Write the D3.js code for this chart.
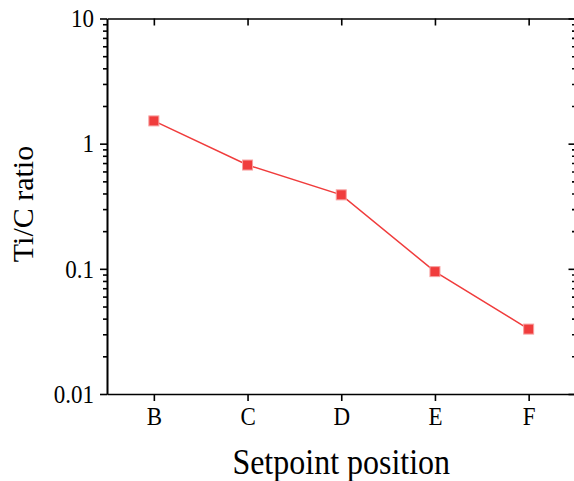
<!DOCTYPE html>
<html>
<head>
<meta charset="utf-8">
<script src="https://cdn.jsdelivr.net/npm/d3@7"></script>
<style>
  body { margin: 0; background: #fff; }
  svg { display: block; font-family: "Liberation Serif", "Times New Roman", serif; }
  .tall { transform-box: fill-box; transform-origin: center; transform: scaleY(1.1); }
</style>
</head>
<body>
<svg id="chart" width="574" height="481"></svg>
<script>
// Data
const positions = ["B", "C", "D", "E", "F"];
const ratios = [1.52, 0.675, 0.39, 0.095, 0.033];
const yMajorTicks = [0.01, 0.1, 1, 10];
const yTickLabels = ["0.01", "0.1", "1", "10"];

const svg = d3.select("#chart");
const plotLeft = 107, plotRight = 575.5, plotTop = 18.5, plotBottom = 394;
const red = "#f03c3c";

let x = d3.scalePoint().domain(positions).range([plotLeft, plotRight]).padding(0.5);
let y = d3.scaleLog().domain([0.01, 10]).range([plotBottom, plotTop]);

// minor ticks: 2..9 in each decade
let minorTicks = y.ticks().filter(v => yMajorTicks.indexOf(v) === -1);

function styleAxis(g) {
    g.selectAll("path, line").attr("stroke", "#000").attr("stroke-width", 1.6);
    g.selectAll("text").attr("fill", "#000").attr("class", "tall").style("font-size", "23px")
        .style("font-family", '"Liberation Serif", "Times New Roman", serif');
}

// Left axis, ticks outward
svg.append("g")
    .attr("transform", `translate(${plotLeft},0)`)
    .call(d3.axisLeft(y).tickValues(minorTicks).tickSize(4).tickSizeOuter(0).tickFormat(""))
    .call(styleAxis);
svg.append("g")
    .attr("transform", `translate(${plotLeft},0)`)
    .call(d3.axisLeft(y).tickValues(yMajorTicks).tickSize(7).tickSizeOuter(0)
        .tickPadding(6).tickFormat((d, i) => yTickLabels[i]))
    .call(styleAxis);

// Right axis, ticks inward (mostly beyond the window edge)
svg.append("g")
    .attr("transform", `translate(${plotRight},0)`)
    .call(d3.axisLeft(y).tickValues(minorTicks).tickSize(3.5).tickSizeOuter(0).tickFormat(""))
    .call(styleAxis);
svg.append("g")
    .attr("transform", `translate(${plotRight},0)`)
    .call(d3.axisLeft(y).tickValues(yMajorTicks).tickSize(7).tickSizeOuter(0).tickFormat(""))
    .call(styleAxis);

// Bottom axis, ticks outward
svg.append("g")
    .attr("transform", `translate(0,${plotBottom})`)
    .call(d3.axisBottom(x).tickSize(7).tickSizeOuter(0).tickPadding(7))
    .call(styleAxis);

// Top axis, ticks inward
svg.append("g")
    .attr("transform", `translate(0,${plotTop})`)
    .call(d3.axisBottom(x).tickSize(7).tickSizeOuter(0).tickFormat(""))
    .call(styleAxis);

// Line and markers
svg.append("path")
    .datum(positions.map((p, i) => [p, ratios[i]]))
    .attr("fill", "none")
    .attr("stroke", red)
    .attr("stroke-width", 1.5)
    .attr("d", d3.line().x(d => x(d[0])).y(d => y(d[1])));

const size = 10;
svg.append("g")
    .selectAll("rect")
    .data(positions.map((p, i) => [p, ratios[i]]))
    .join("rect")
        .attr("x", d => x(d[0]) - size / 2)
        .attr("y", d => y(d[1]) - size / 2)
        .attr("width", size)
        .attr("height", size)
        .attr("fill", red)
        .attr("stroke", "#f7a0a0")
        .attr("stroke-width", 1);

// Axis titles
svg.append("text")
    .attr("class", "tall")
    .attr("x", (plotLeft + plotRight) / 2)
    .attr("y", 473)
    .attr("text-anchor", "middle")
    .style("font-size", "32px")
    .text("Setpoint position");

svg.append("text")
    .attr("transform", `translate(33,204) rotate(-90)`)
    .attr("text-anchor", "middle")
    .style("font-size", "30px")
    .text("Ti/C ratio");
</script>
</body>
</html>
